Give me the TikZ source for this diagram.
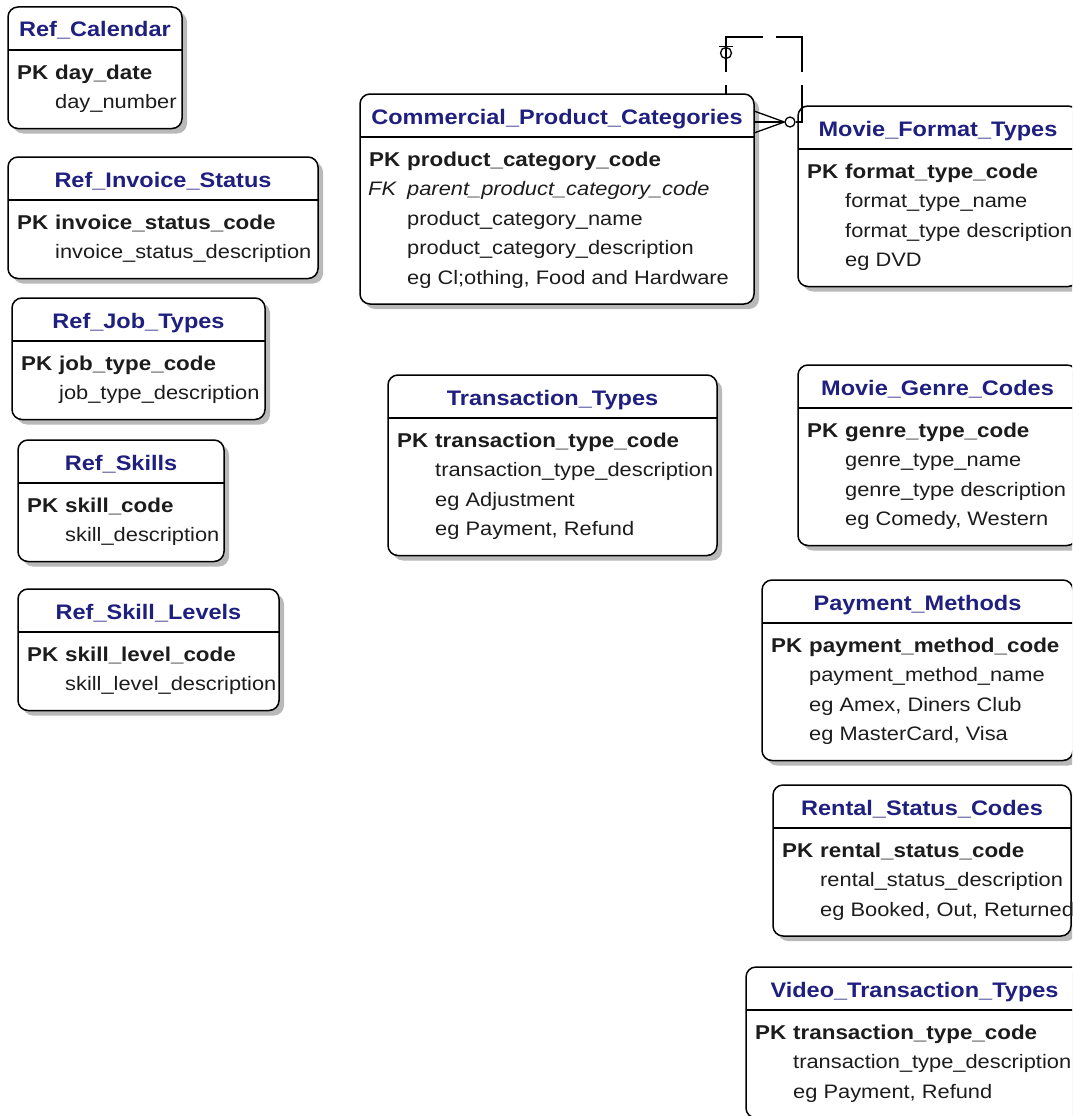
\documentclass[tikz,border=0pt]{standalone}
\usepackage{fontspec}
\setmainfont[FakeStretch=1.12]{Liberation Sans}
\usetikzlibrary{shadows}
\definecolor{titlec}{RGB}{31,31,128}
\definecolor{textc}{RGB}{28,28,28}
\tikzset{
  ebox/.style={draw=black, line width=1.5pt, rounded corners=10pt, fill=white, inner sep=0pt, outer sep=0pt,
    drop shadow={shadow xshift=5pt, shadow yshift=-5pt, fill=black!50, opacity=0.55}},
  divider/.style={line width=1.5pt},
  etitle/.style={font=\fontsize{21}{24}\selectfont\bfseries, text=titlec, inner sep=0pt, anchor=base},
  keylab/.style={font=\fontsize{20}{24}\selectfont\bfseries, text=textc, inner sep=0pt, anchor=base west},
  fklab/.style={font=\fontsize{19.5}{24}\selectfont\itshape, text=textc, inner sep=0pt, anchor=base west},
  pkf/.style={font=\fontsize{20}{24}\selectfont\bfseries, text=textc, inner sep=0pt, anchor=base west},
  fkf/.style={font=\fontsize{19.5}{24}\selectfont\itshape, text=textc, inner sep=0pt, anchor=base west},
  fld/.style={font=\fontsize{19.5}{24}\selectfont, text=textc, inner sep=0pt, anchor=base west},
  rel/.style={line width=1.3pt, draw=black},
  relmark/.style={draw=black, line width=1.3pt, circle, inner sep=0pt, minimum size=11pt},
}
% #1 name, #2 left, #3 right, #4 top, #5 rows, #6 title
\newcommand\entity[6]{%
  \pgfmathsetmacro\ew{#3-#2}%
  \pgfmathsetmacro\eh{72+29.5*(#5-1)+20}%
  \node[ebox, minimum width=\ew pt, minimum height=\eh pt, anchor=north west] (#1) at (#2,#4) {};
  \draw[divider] (#2,{#4+43}) -- (#3,{#4+43});
  \node[etitle] (#1-title) at ({(#2+#3)/2},{#4+30}) {#6};
}
% #1 name, #2 left, #3 top, #4 text
\newcommand\pkrow[4]{%
  \node[keylab] (#1-key) at ({#2+9},{#3+72}) {PK};
  \node[pkf] (#1) at ({#2+47},{#3+72}) {#4};
}
% #1 name, #2 left, #3 top, #4 row index, #5 text
\newcommand\frow[5]{%
  \node[fld] (#1) at ({#2+47},{#3+72+29.5*#4}) {#5};
}
\newcommand\fkrow[5]{%
  \node[fklab] (#1-key) at ({#2+8},{#3+72+29.5*#4}) {FK};
  \node[fkf] (#1) at ({#2+47},{#3+72+29.5*#4}) {#5};
}
\begin{document}
\begin{tikzpicture}[x=1pt,y=-1pt]
\fill[white] (0,0) rectangle (1072,1116);
\useasboundingbox (0,0) rectangle (1072,1116);
\clip (0,0) rectangle (1072,1116);

% Left column
\entity{cal}{8}{182}{7}{2}{Ref\_Calendar}
\pkrow{cal1}{8}{7}{day\_date}
\frow{cal2}{8}{7}{1}{day\_number}

\entity{inv}{8}{318}{157}{2}{Ref\_Invoice\_Status}
\pkrow{inv1}{8}{157}{invoice\_status\_code}
\frow{inv2}{8}{157}{1}{invoice\_status\_description}

\entity{job}{12}{265}{298}{2}{Ref\_Job\_Types}
\pkrow{job1}{12}{298}{job\_type\_code}
\frow{job2}{12}{298}{1}{job\_type\_description}

\entity{skl}{18}{224}{440}{2}{Ref\_Skills}
\pkrow{skl1}{18}{440}{skill\_code}
\frow{skl2}{18}{440}{1}{skill\_description}

\entity{lvl}{18}{279}{589}{2}{Ref\_Skill\_Levels}
\pkrow{lvl1}{18}{589}{skill\_level\_code}
\frow{lvl2}{18}{589}{1}{skill\_level\_description}

% Middle column
\entity{cpc}{360}{754}{94}{5}{Commercial\_Product\_Categories}
\pkrow{cpc1}{360}{94}{product\_category\_code}
\fkrow{cpc2}{360}{94}{1}{parent\_product\_category\_code}
\frow{cpc3}{360}{94}{2}{product\_category\_name}
\frow{cpc4}{360}{94}{3}{product\_category\_description}
\frow{cpc5}{360}{94}{4}{eg Cl;othing, Food and Hardware}

\entity{tt}{388}{717}{375}{4}{Transaction\_Types}
\pkrow{tt1}{388}{375}{transaction\_type\_code}
\frow{tt2}{388}{375}{1}{transaction\_type\_description}
\frow{tt3}{388}{375}{2}{eg Adjustment}
\frow{tt4}{388}{375}{3}{eg Payment, Refund}

% Right column
\entity{mft}{798}{1078}{106}{4}{Movie\_Format\_Types}
\pkrow{mft1}{798}{106}{format\_type\_code}
\frow{mft2}{798}{106}{1}{format\_type\_name}
\frow{mft3}{798}{106}{2}{format\_type description}
\frow{mft4}{798}{106}{3}{eg DVD}

\entity{mgc}{798}{1077}{365}{4}{Movie\_Genre\_Codes}
\pkrow{mgc1}{798}{365}{genre\_type\_code}
\frow{mgc2}{798}{365}{1}{genre\_type\_name}
\frow{mgc3}{798}{365}{2}{genre\_type description}
\frow{mgc4}{798}{365}{3}{eg Comedy, Western}

\entity{pm}{762}{1073}{580}{4}{Payment\_Methods}
\pkrow{pm1}{762}{580}{payment\_method\_code}
\frow{pm2}{762}{580}{1}{payment\_method\_name}
\frow{pm3}{762}{580}{2}{eg Amex, Diners Club}
\frow{pm4}{762}{580}{3}{eg MasterCard, Visa}

\entity{rsc}{773}{1071}{785}{3}{Rental\_Status\_Codes}
\pkrow{rsc1}{773}{785}{rental\_status\_code}
\frow{rsc2}{773}{785}{1}{rental\_status\_description}
\frow{rsc3}{773}{785}{2}{eg Booked, Out, Returned}

\entity{vtt}{746}{1083}{967}{3}{Video\_Transaction\_Types}
\pkrow{vtt1}{746}{967}{transaction\_type\_code}
\frow{vtt2}{746}{967}{1}{transaction\_type\_description}
\frow{vtt3}{746}{967}{2}{eg Payment, Refund}

% Self relationship on Commercial_Product_Categories
\node[relmark] (onec) at (726,53) {};
\draw[rel] ([xshift=-7pt]onec.north) -- ([xshift=7pt]onec.north);
\node[relmark, minimum size=10pt] (crowc) at (790,122) {};
\coordinate (loopa) at (726,37);
\coordinate (loopb) at (802,37);
\coordinate (loopc) at (802,122);
\draw[rel, dash pattern=on 9pt off 13pt on 72pt off 13pt on 61pt off 13pt on 300pt]
  (cpc.north -| 726,0) -- (loopa) -- (loopb) -- (loopc) -- (crowc.east);
\draw[rel] (crowc.west) -- (cpc.east |- 0,111);
\draw[rel] (crowc.west) -- (cpc.east |- 0,122);
\draw[rel] (crowc.west) -- (cpc.east |- 0,133);
\end{tikzpicture}
\end{document}
